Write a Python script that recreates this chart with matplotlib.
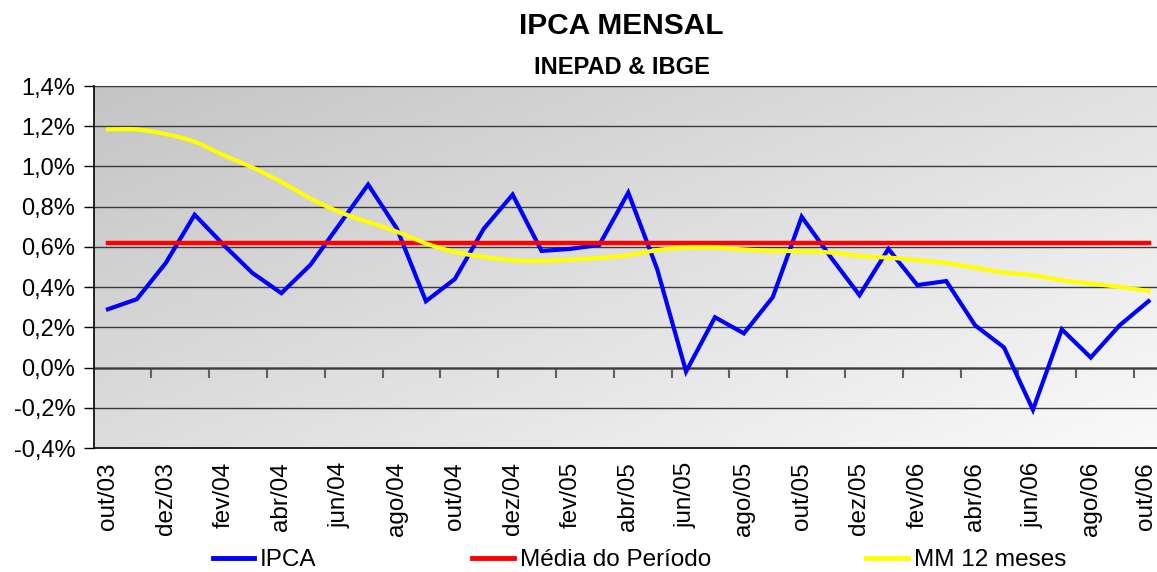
import numpy as np
import matplotlib
matplotlib.use("Agg")
import matplotlib.pyplot as plt
from matplotlib.lines import Line2D
import matplotlib.transforms as mtransforms

plt.rcParams['font.family'] = ['Liberation Sans', 'DejaVu Sans']

# ---------------- data ----------------
months = ['out/03', 'nov/03', 'dez/03', 'jan/04', 'fev/04', 'mar/04', 'abr/04', 'mai/04',
          'jun/04', 'jul/04', 'ago/04', 'set/04', 'out/04', 'nov/04', 'dez/04', 'jan/05',
          'fev/05', 'mar/05', 'abr/05', 'mai/05', 'jun/05', 'jul/05', 'ago/05', 'set/05',
          'out/05', 'nov/05', 'dez/05', 'jan/06', 'fev/06', 'mar/06', 'abr/06', 'mai/06',
          'jun/06', 'jul/06', 'ago/06', 'set/06', 'out/06']

ipca = [0.29, 0.34, 0.52, 0.76, 0.61, 0.47, 0.37, 0.51, 0.71, 0.91, 0.69, 0.33,
        0.44, 0.69, 0.86, 0.58, 0.59, 0.61, 0.87, 0.49, -0.02, 0.25, 0.17, 0.35,
        0.75, 0.55, 0.36, 0.59, 0.41, 0.43, 0.21, 0.10, -0.21, 0.19, 0.05, 0.21, 0.33]

media_periodo = [0.617, 0.617, 0.617, 0.617, 0.617, 0.617, 0.617, 0.617, 0.617, 0.617,
                 0.617, 0.617, 0.617, 0.617, 0.617, 0.617, 0.617, 0.617, 0.617, 0.617,
                 0.617, 0.617, 0.617, 0.617, 0.617, 0.617, 0.617, 0.617, 0.617, 0.617,
                 0.617, 0.617, 0.617, 0.617, 0.617, 0.617, 0.617]

mm12 = [1.184, 1.184, 1.161, 1.123, 1.056, 0.995, 0.923, 0.841, 0.774, 0.724, 0.675, 0.617,
        0.575, 0.550, 0.534, 0.530, 0.537, 0.545, 0.559, 0.584, 0.597, 0.597, 0.587, 0.580,
        0.579, 0.572, 0.555, 0.547, 0.534, 0.520, 0.496, 0.473, 0.459, 0.434, 0.418, 0.401, 0.381]

yticks = [-0.4, -0.2, 0.0, 0.2, 0.4, 0.6, 0.8, 1.0, 1.2, 1.4]
ytick_labels = ['-0,4%', '-0,2%', '0,0%', '0,2%', '0,4%', '0,6%', '0,8%', '1,0%', '1,2%', '1,4%']

title = 'IPCA MENSAL'
subtitle = 'INEPAD & IBGE'
series_names = ['IPCA', 'Média do Período', 'MM 12 meses']
colors = ['#0000FF', '#FF0000', '#FFFF00']


def smooth(xs, ys, n=12):
    """Catmull-Rom curve through the points (visual smoothing only)."""
    xs = np.asarray(xs, float)
    ys = np.asarray(ys, float)
    px = np.concatenate([[xs[0]], xs, [xs[-1]]])
    py = np.concatenate([[ys[0]], ys, [ys[-1]]])
    ox, oy = [], []
    t = np.linspace(0, 1, n, endpoint=False)
    for i in range(1, len(px) - 2):
        for P, out in ((px, ox), (py, oy)):
            p0, p1, p2, p3 = P[i - 1], P[i], P[i + 1], P[i + 2]
            out.extend(0.5 * ((2 * p1) + (-p0 + p2) * t + (2 * p0 - 5 * p1 + 4 * p2 - p3) * t ** 2
                              + (-p0 + 3 * p1 - 3 * p2 + p3) * t ** 3))
    ox.append(xs[-1])
    oy.append(ys[-1])
    return np.array(ox), np.array(oy)


# ---------------- figure ----------------
W, H = 1157, 572
fig = plt.figure(figsize=(W / 100, H / 100), dpi=100)
fig.patch.set_facecolor('white')

left_px, right_px, top_px, bot_px = 93.5, 1163, 86, 448
ax = fig.add_axes([left_px / W, 1 - bot_px / H, (right_px - left_px) / W, (bot_px - top_px) / H])

x = np.arange(len(months))

# gradient background
gx, gy = np.meshgrid(np.linspace(0, 1, 300), np.linspace(1, 0, 150))
g = (gx * 0.55 + (1 - gy) * 0.45)
g = 0.77 + 0.21 * g
img = np.dstack([g, g, g])
ax.imshow(img, extent=[0, 1, 0, 1], transform=ax.transAxes, aspect='auto', zorder=0,
          interpolation='bilinear')

ax.plot(x, ipca, color=colors[0], lw=3.0, zorder=3, solid_joinstyle='miter')
ax.plot(x, media_periodo, color=colors[1], lw=3.2, zorder=4)
sx, sy = smooth(x, mm12)
ax.plot(sx, sy, color=colors[2], lw=3.0, zorder=5)

ax.set_xlim(-0.5, len(months) - 0.5)
ax.set_ylim(-0.4, 1.4)

ax.set_yticks(yticks)
ax.set_yticklabels(ytick_labels, fontsize=17)
ax.tick_params(axis='y', direction='out', length=7, width=1, color='black', pad=6)
ax.yaxis.grid(True, color='#3a3a3a', lw=1.0, zorder=1)
ax.set_axisbelow(False)
for gl in ax.yaxis.get_gridlines():
    gl.set_zorder(1)

ax.set_xticks(x[::2])
ax.set_xticklabels(months[::2], rotation=90, fontsize=17.5, va='top')
ax.tick_params(axis='x', length=0, pad=10)
# nudge the last label a little so it stays inside the canvas
last = ax.get_xticklabels()[-1]
last.set_transform(last.get_transform() + mtransforms.ScaledTranslation(-3 / 100, 0, fig.dpi_scale_trans))

for s in ['right']:
    ax.spines[s].set_visible(False)
ax.spines['top'].set_color('#7a7a7a')
ax.spines['left'].set_color('black')
ax.spines['bottom'].set_color('black')
ax.spines['left'].set_linewidth(1.2)
ax.spines['bottom'].set_linewidth(1.2)

# category axis crossing at 0 with tick marks at category boundaries
sec = ax.secondary_xaxis(0.4 / 1.8)
sec.set_xticks(np.arange(1.5, len(months), 2))
sec.tick_params(axis='x', direction='out', length=7, width=1.5, color='#606060', labelbottom=False)
sec.spines['bottom'].set_color('#606060')
sec.spines['bottom'].set_linewidth(1.8)

# titles
fig.text(621.5 / W, 1 - 26 / H, title, fontsize=21.5, fontweight='bold', ha='center', va='center')
fig.text(621.5 / W, 1 - 67.5 / H, subtitle, fontsize=17, fontweight='bold', ha='center', va='center')

# legend
handles = [Line2D([0], [0], color=c, lw=3.5) for c in colors]
fig.legend(handles, series_names, loc='center', bbox_to_anchor=(639.5 / W, 1 - 560 / H),
           ncol=3, frameon=False, fontsize=17.5, columnspacing=6.4, handlelength=1.7,
           handletextpad=0.25, borderaxespad=0, borderpad=0)

fig.savefig('out.png', dpi=100)
